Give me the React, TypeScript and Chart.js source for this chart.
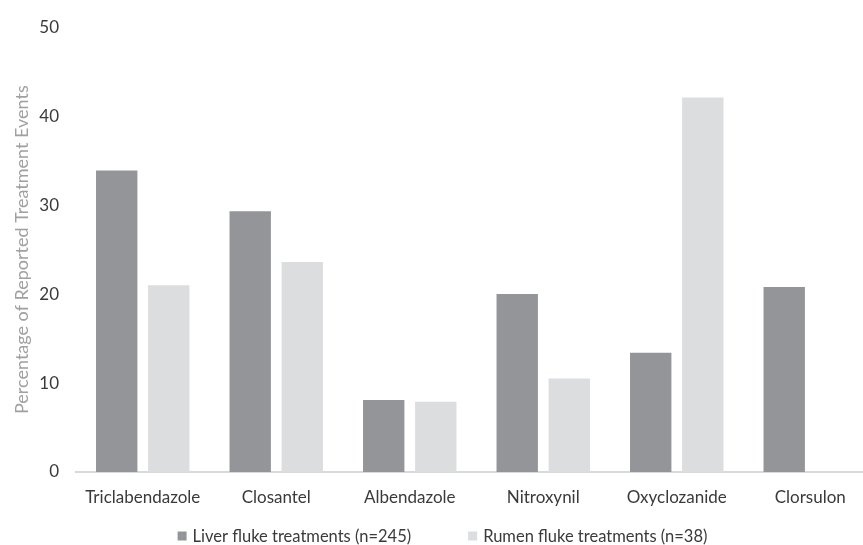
import React, { useEffect, useRef } from "react";
import { Chart, registerables } from "chart.js";

Chart.register(...registerables);

const categories = ["Triclabendazole", "Closantel", "Albendazole", "Nitroxynil", "Oxyclozanide", "Clorsulon"];
const liverFluke = [33.9, 29.3, 8.1, 20.0, 13.4, 20.8];
const rumenFluke = [21.0, 23.6, 7.9, 10.5, 42.1, 0];
const seriesLabels = ["Liver fluke treatments (n=245)", "Rumen fluke treatments (n=38)"];
const seriesColors = ["#949598", "#dcdddf"];
const yTitle = "Percentage of Reported Treatment Events";

const FONT = "Lato, 'Open Sans', sans-serif";

// Legend drawn centred under the x axis labels
const bottomLegend = {
  id: "bottomLegend",
  afterDraw(chart: any) {
    const ctx = chart.ctx;
    const size = 16.5;
    const box = 9;
    const gapText = 6;
    const gapItem = 57;
    ctx.save();
    ctx.font = `${size}px ${FONT}`;
    ctx.textBaseline = "middle";
    ctx.textAlign = "left";
    const items = chart.data.datasets.map((ds: any) => ({
      text: ds.label,
      color: ds.backgroundColor,
      w: ctx.measureText(ds.label).width,
    }));
    const total = items.reduce((s: number, it: any) => s + box + gapText + it.w, 0) + gapItem * (items.length - 1);
    let x = chart.width / 2 - total / 2;
    const y = 536;
    items.forEach((it: any) => {
      ctx.fillStyle = it.color;
      ctx.fillRect(x, y - box / 2, box, box);
      x += box + gapText;
      ctx.fillStyle = "#3a3a3a";
      ctx.fillText(it.text, x, y + 1);
      x += it.w + gapItem;
    });
    ctx.restore();
  },
};

export default function App() {
  const ref = useRef<HTMLCanvasElement | null>(null);

  useEffect(() => {
    if (!ref.current) return;
    const chart = new Chart(ref.current, {
      type: "bar",
      data: {
        labels: categories,
        datasets: [
          { label: seriesLabels[0], data: liverFluke, backgroundColor: seriesColors[0], borderWidth: 0 },
          { label: seriesLabels[1], data: rumenFluke, backgroundColor: seriesColors[1], borderWidth: 0 },
        ],
      },
      options: {
        responsive: false,
        animation: false,
        devicePixelRatio: 1,
        datasets: { bar: { categoryPercentage: 0.78, barPercentage: 0.795 } },
        layout: { padding: { top: 21, left: 7, right: 8, bottom: 33 } },
        plugins: {
          legend: { display: false },
          tooltip: { enabled: false },
        },
        scales: {
          x: {
            grid: { display: false, drawTicks: false },
            border: { display: true, color: "#d9d9d9", width: 2 },
            ticks: { color: "#3a3a3a", font: { family: FONT, size: 17 }, padding: 15, maxRotation: 0 },
            afterFit: (scale: any) => { scale.height = 40; },
          },
          y: {
            min: 0,
            max: 50,
            grid: { display: false, drawTicks: false },
            border: { display: false },
            ticks: { stepSize: 10, color: "#3a3a3a", font: { family: FONT, size: 17 }, padding: 17 },
            title: {
              display: true,
              text: yTitle,
              color: "#a0a0a0",
              font: { family: FONT, size: 18 },
              padding: { top: 4, bottom: 4 },
            },
            afterFit: (scale: any) => { scale.width = 69; },
          },
        },
      },
      plugins: [bottomLegend],
    });
    return () => chart.destroy();
  }, []);

  return (
    <div style={{ position: "fixed", left: 0, top: 0, width: 863, height: 545, overflow: "hidden", background: "#fff" }}>
      <canvas ref={ref} width={885} height={545} style={{ display: "block" }} />
    </div>
  );
}
